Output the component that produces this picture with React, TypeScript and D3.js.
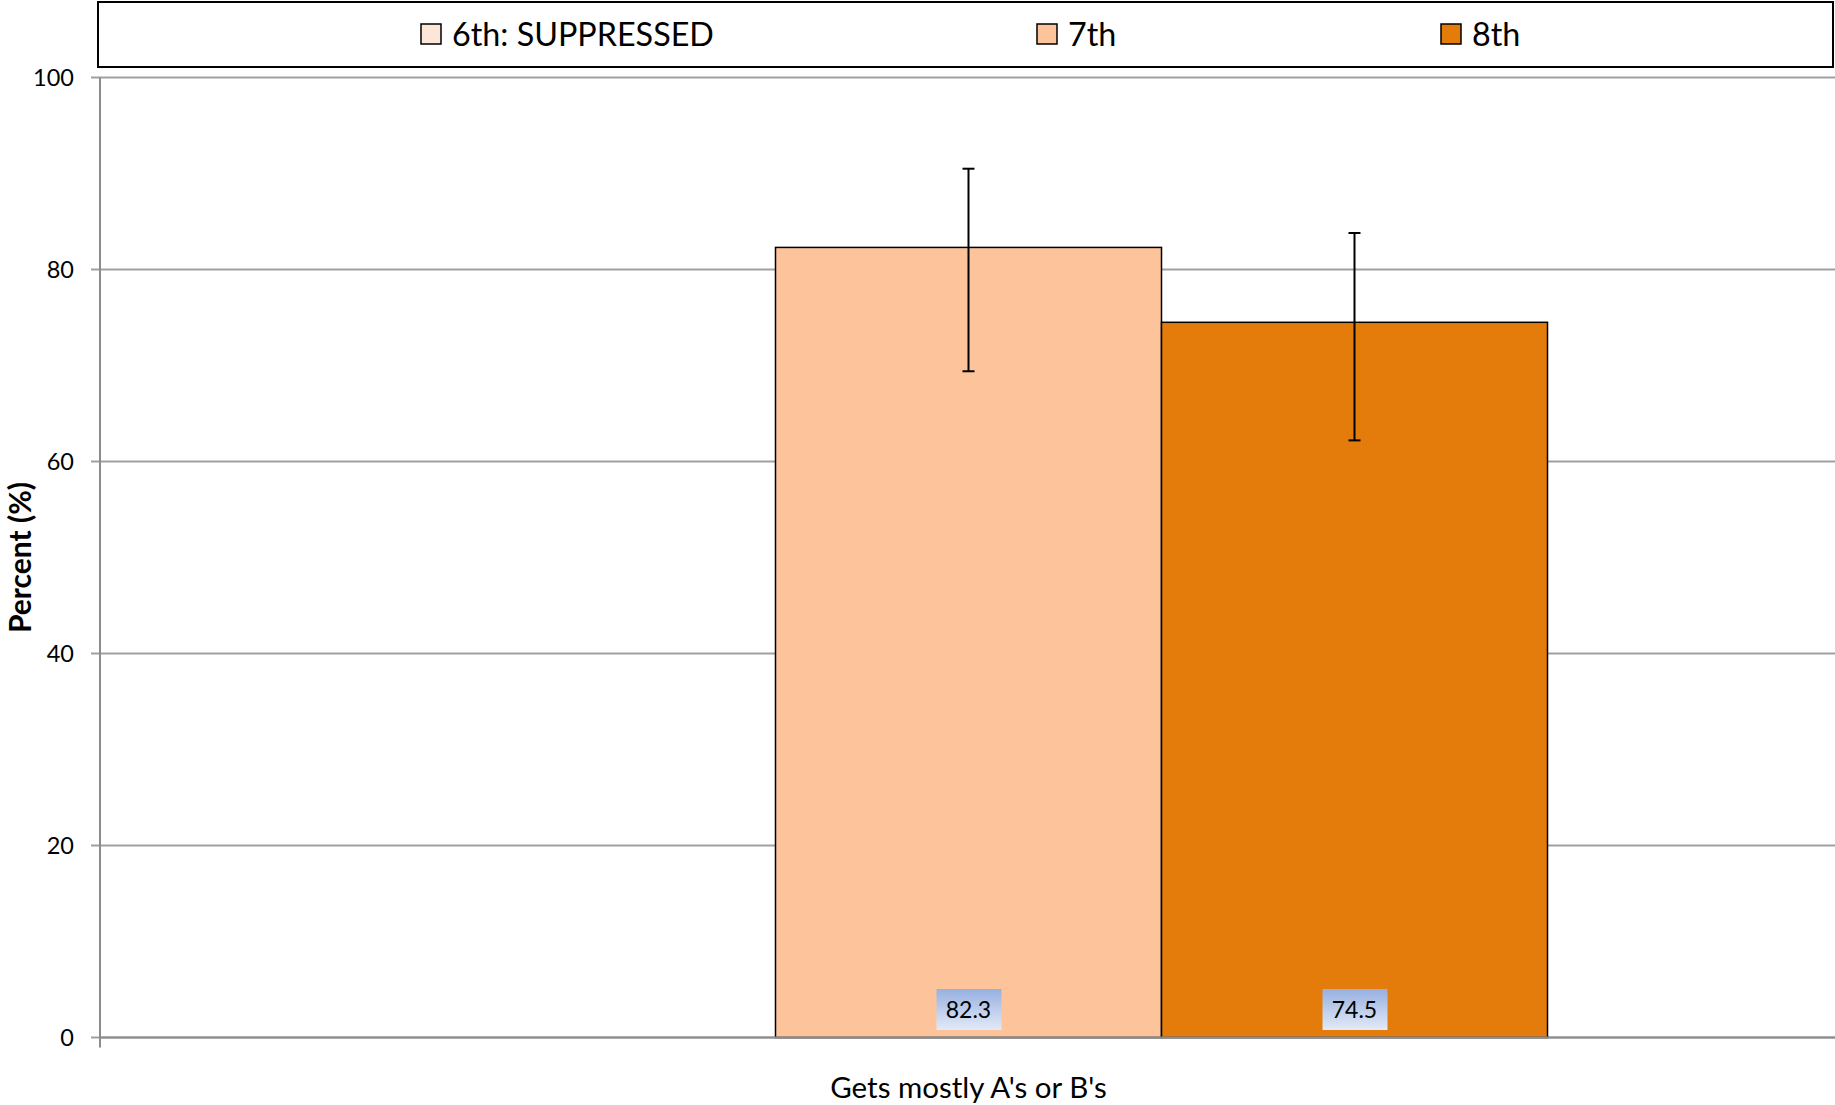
import React from "react";
import * as d3 from "d3";

const categories = ["Gets mostly A's or B's"];
const seriesNames = ["6th: SUPPRESSED", "7th", "8th"];
const seriesValues: (number | null)[] = [null, 82.3, 74.5];
const errLow: (number | null)[] = [null, 69.4, 62.2];
const errHigh: (number | null)[] = [null, 90.5, 83.8];
const seriesColors = ["#fde6d8", "#fdc49b", "#e37c0a"];
const yTicks = [0, 20, 40, 60, 80, 100];

const W = 1835;
const H = 1105;
const left = 100;
const right = 1837;
const top = 77.5;
const bottom = 1037.5;
const FONT = "Lato, 'Open Sans', sans-serif";

export default function App() {
  const y = d3.scaleLinear().domain([0, 100]).range([bottom, top]);
  const xCat = d3.scaleBand().domain(categories).range([left, right]);
  const legendX = [421, 1037, 1441];

  return (
    <svg width={W} height={H} style={{ position: "absolute", left: 0, top: 0, background: "#fff" }}>
      {yTicks.map((t) => (
        <g key={t}>
          <line x1={left - 9} x2={W} y1={y(t)} y2={y(t)} stroke="#a0a0a0" strokeWidth={2} />
          <text x={74} y={y(t)} dy="0.35em" textAnchor="end" fontFamily={FONT} fontSize={23.5} fill="#000">
            {t}
          </text>
        </g>
      ))}
      <line x1={left} x2={left} y1={top} y2={bottom + 10} stroke="#8c8c8c" strokeWidth={2} />

      {categories.map((c) => {
        const bw = xCat.bandwidth();
        const barW = bw / 4.5;
        const gStart = (xCat(c) as number) + (bw - barW * 3) / 2;
        const xs = d3.scaleBand().domain(seriesNames).range([gStart, gStart + barW * 3]);
        return (
          <g key={c}>
            {seriesNames.map((s, i) => {
              const v = seriesValues[i];
              if (v == null) return null;
              const x0 = xs(s) as number;
              const cx = x0 + xs.bandwidth() / 2;
              const lo = errLow[i] as number;
              const hi = errHigh[i] as number;
              return (
                <g key={s}>
                  <rect x={x0} y={y(v)} width={xs.bandwidth()} height={bottom - y(v)} fill={seriesColors[i]} stroke="#000" strokeWidth={1.5} />
                  <line x1={cx} x2={cx} y1={y(hi)} y2={y(lo)} stroke="#000" strokeWidth={2} />
                  <line x1={cx - 6} x2={cx + 6} y1={y(hi)} y2={y(hi)} stroke="#000" strokeWidth={2} />
                  <line x1={cx - 6} x2={cx + 6} y1={y(lo)} y2={y(lo)} stroke="#000" strokeWidth={2} />
                  <rect x={cx - 32} y={989} width={65} height={41} fill="url(#lblGrad)" />
                  <text x={cx} y={1010} dy="0.35em" textAnchor="middle" fontFamily={FONT} fontSize={23} fill="#000">
                    {v.toFixed(1)}
                  </text>
                </g>
              );
            })}
            <text x={(xCat(c) as number) + bw / 2} y={1088} dy="0.35em" textAnchor="middle" fontFamily={FONT} fontSize={29.5} fill="#000">
              {c}
            </text>
          </g>
        );
      })}
      <line x1={left} x2={W} y1={bottom} y2={bottom} stroke="#8c8c8c" strokeWidth={2} />

      <defs>
        <linearGradient id="lblGrad" x1="0" y1="0" x2="0" y2="1">
          <stop offset="0" stopColor="#97b0e0" />
          <stop offset="1" stopColor="#e3eaf7" />
        </linearGradient>
      </defs>

      <text transform={`translate(20,${(top + bottom) / 2}) rotate(-90)`} textAnchor="middle" dy="0.35em" fontFamily={FONT} fontWeight="bold" fontSize={30} fill="#000">
        Percent (%)
      </text>

      <rect x={98} y={2} width={1735} height={65} fill="#fff" stroke="#000" strokeWidth={2} />
      {seriesNames.map((s, i) => (
        <g key={s}>
          <rect x={legendX[i]} y={24} width={20} height={20} fill={seriesColors[i]} stroke="#000" strokeWidth={1.5} />
          <text x={legendX[i] + 31} y={35} dy="0.35em" fontFamily={FONT} fontSize={32.3} fill="#000">
            {s}
          </text>
        </g>
      ))}
    </svg>
  );
}
